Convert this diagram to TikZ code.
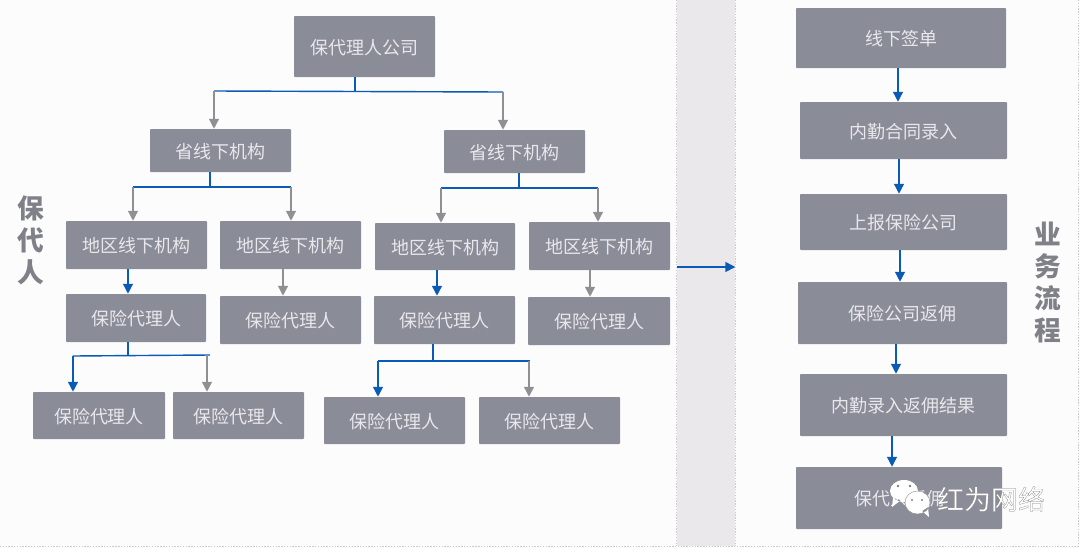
\documentclass[tikz,border=0pt]{standalone}
\usepackage{fontspec}
\setmainfont{Noto Sans CJK SC}
\newfontfamily\markfont[FakeBold=0.8]{Noto Sans CJK SC}
\usetikzlibrary{arrows.meta}
\definecolor{boxgray}{RGB}{138,140,152}
\definecolor{boxtext}{RGB}{232,232,236}
\definecolor{linkblue}{RGB}{10,91,181}
\definecolor{linkgray}{RGB}{143,143,148}
\definecolor{sidegray}{RGB}{128,129,136}
\definecolor{bandgray}{RGB}{234,232,234}
\definecolor{pagewhite}{RGB}{253,252,253}
\definecolor{dotgray}{RGB}{205,205,208}
\begin{document}
\begin{tikzpicture}[
    x=0.025cm, y=-0.025cm,
    box/.style 2 args={fill=boxgray, text=boxtext, rounded corners=0.6pt, inner sep=0pt,
      text height=12pt, text depth=0.9pt,
      minimum width=#1*0.025cm, minimum height=#2*0.025cm, font=\fontsize{12.8}{14}\selectfont},
    sidelabel/.style={text=sidegray, align=center, inner sep=0pt, font=\fontsize{19}{22.8}\selectfont\bfseries},
    bluelink/.style={draw=linkblue, line width=1pt},
    graylink/.style={draw=linkgray, line width=1pt},
    >={Triangle[length=7pt,width=7pt]}
  ]
  \useasboundingbox (0,0) rectangle (1080,548);
  \fill[pagewhite] (0,0) rectangle (1080,548);
  \node[fill=bandgray, inner sep=0pt, minimum width=58*0.025cm, minimum height=546*0.025cm] (band) at (706,273) {};
  \draw[dotgray, densely dotted, line width=1pt] (band.north west) -- (band.south west);
  \draw[dotgray, densely dotted, line width=1pt] (band.north east) -- (band.south east);
  \draw[dotgray, densely dotted, line width=1pt] (0,546.5) -- (1080,546.5);
  \draw[dotgray, densely dotted, line width=1pt] (1078.5,0) -- (1078.5,546);

  \node[box={141}{61}] (company) at (364.5,46.5) {保代理人公司};
  \node[box={141}{43}] (prova) at (220.5,150.5) {省线下机构};
  \node[box={141}{43}] (provb) at (514.5,151.5) {省线下机构};
  \node[box={141}{48}] (rega) at (136.5,245) {地区线下机构};
  \node[box={141}{48}] (regb) at (290.5,245) {地区线下机构};
  \node[box={140}{47}] (regc) at (445,246.5) {地区线下机构};
  \node[box={141}{48}] (regd) at (599.5,246) {地区线下机构};
  \node[box={140}{48}] (agenta) at (136,318) {保险代理人};
  \node[box={141}{48}] (agentb) at (290.5,320) {保险代理人};
  \node[box={141}{48}] (agentc) at (444.5,320) {保险代理人};
  \node[box={142}{48}] (agentd) at (599,321) {保险代理人};
  \node[box={132}{47}] (leafa) at (99,415.5) {保险代理人};
  \node[box={131}{47}] (leafb) at (238.5,415.5) {保险代理人};
  \node[box={141}{47}] (leafc) at (394.5,420.5) {保险代理人};
  \node[box={141}{47}] (leafd) at (549.5,420.5) {保险代理人};

  \node[box={210}{60}] (sign) at (901,38) {线下签单};
  \node[box={207}{57}] (entry) at (903.5,130.5) {内勤合同录入};
  \node[box={207}{56}] (report) at (903.5,222) {上报保险公司};
  \node[box={209}{62}] (rebate) at (902.5,313) {保险公司返佣};
  \node[box={207}{62}] (result) at (903.5,405) {内勤录入返佣结果};
  \node[box={206}{62}] (payout) at (899,498) {保代人返佣};

  \node[sidelabel] (sidea) at (31,240) {保\\代\\人};
  \node[sidelabel] (sideb) at (1048,282.5) {业\\务\\流\\程};

  \coordinate (cj) at (355,91);
  \coordinate (cl) at (214,91);
  \coordinate (cr) at (503,92);
  \draw[bluelink] (cj |- company.south) -- (cj);
  \draw[bluelink] (cl) -- (cr);
  \draw[graylink, ->] (cl) -- (cl |- prova.north);
  \draw[graylink, ->] (cr) -- (cr |- provb.north);

  \coordinate (pj) at (210,187);
  \coordinate (pl) at (133,187);
  \coordinate (pr) at (291,187);
  \draw[bluelink] (pj |- prova.south) -- (pj);
  \draw[bluelink] (pl) -- (pr);
  \draw[graylink, ->] (pl) -- (pl |- rega.north);
  \draw[graylink, ->] (pr) -- (pr |- regb.north);

  \coordinate (qj) at (519,188);
  \coordinate (ql) at (441,188);
  \coordinate (qr) at (598,188);
  \draw[bluelink] (qj |- provb.south) -- (qj);
  \draw[bluelink] (ql) -- (qr);
  \draw[graylink, ->] (ql) -- (ql |- regc.north);
  \draw[graylink, ->] (qr) -- (qr |- regd.north);

  \coordinate (ra) at (128,0);
  \coordinate (rb) at (283,0);
  \coordinate (rc) at (437,0);
  \coordinate (rd) at (590,0);
  \draw[bluelink, ->] (ra |- rega.south) -- (ra |- agenta.north);
  \draw[graylink, ->] (rb |- regb.south) -- (rb |- agentb.north);
  \draw[bluelink, ->] (rc |- regc.south) -- (rc |- agentc.north);
  \draw[graylink, ->] (rd |- regd.south) -- (rd |- agentd.north);

  \coordinate (aj) at (128,356);
  \coordinate (al) at (73,356);
  \coordinate (ar) at (210,355);
  \coordinate (ab) at (207,355);
  \draw[bluelink] (aj |- agenta.south) -- (aj);
  \draw[bluelink] (al) -- (ar);
  \draw[bluelink, ->] (al) -- (al |- leafa.north);
  \draw[graylink, ->] (ab) -- (ab |- leafb.north);

  \coordinate (dj) at (433,361);
  \coordinate (dl) at (378,361);
  \coordinate (dr) at (530,361);
  \coordinate (db) at (529,361);
  \draw[bluelink] (dj |- agentc.south) -- (dj);
  \draw[bluelink] (dl) -- (dr);
  \draw[bluelink, ->] (dl) -- (dl |- leafc.north);
  \draw[graylink, ->] (db) -- (db |- leafd.north);

  \coordinate (fa) at (898,0);
  \coordinate (fb) at (899,0);
  \coordinate (fc) at (900,0);
  \coordinate (fd) at (896,0);
  \coordinate (fe) at (892,0);
  \draw[bluelink, ->] (fa |- sign.south) -- (fa |- entry.north);
  \draw[bluelink, ->] (fb |- entry.south) -- (fb |- report.north);
  \draw[bluelink, ->] (fc |- report.south) -- (fc |- rebate.north);
  \draw[bluelink, ->] (fd |- rebate.south) -- (fd |- result.north);
  \draw[bluelink, ->] (fe |- result.south) -- (fe |- payout.north);

  \coordinate (bandmid) at (0,267);
  \draw[bluelink, ->] (band.west |- bandmid) -- (band.east |- bandmid);

  \fill[white] (904,491) ellipse [x radius=14, y radius=11] (893,498) -- (892,507) -- (901,500) -- cycle;
  \fill[white] (917.5,502.5) ellipse [x radius=12.5, y radius=11.5] (922,511) -- (929,517) -- (928,507) -- cycle;
  \draw[linkgray, line width=0.3pt] (917.5,502.5) ellipse [x radius=12.5, y radius=11.5];
  \fill[sidegray] (898,486) circle (1.3) (910,486) circle (1.3) (912,500) circle (1.1) (922,500) circle (1.1);
  \node[inner sep=0pt, text=white, font=\fontsize{19.2}{22}\selectfont] (mark) at (991,499)
    {\special{pdf:code 0.5 G}\markfont 红为网络};
\end{tikzpicture}
\end{document}
